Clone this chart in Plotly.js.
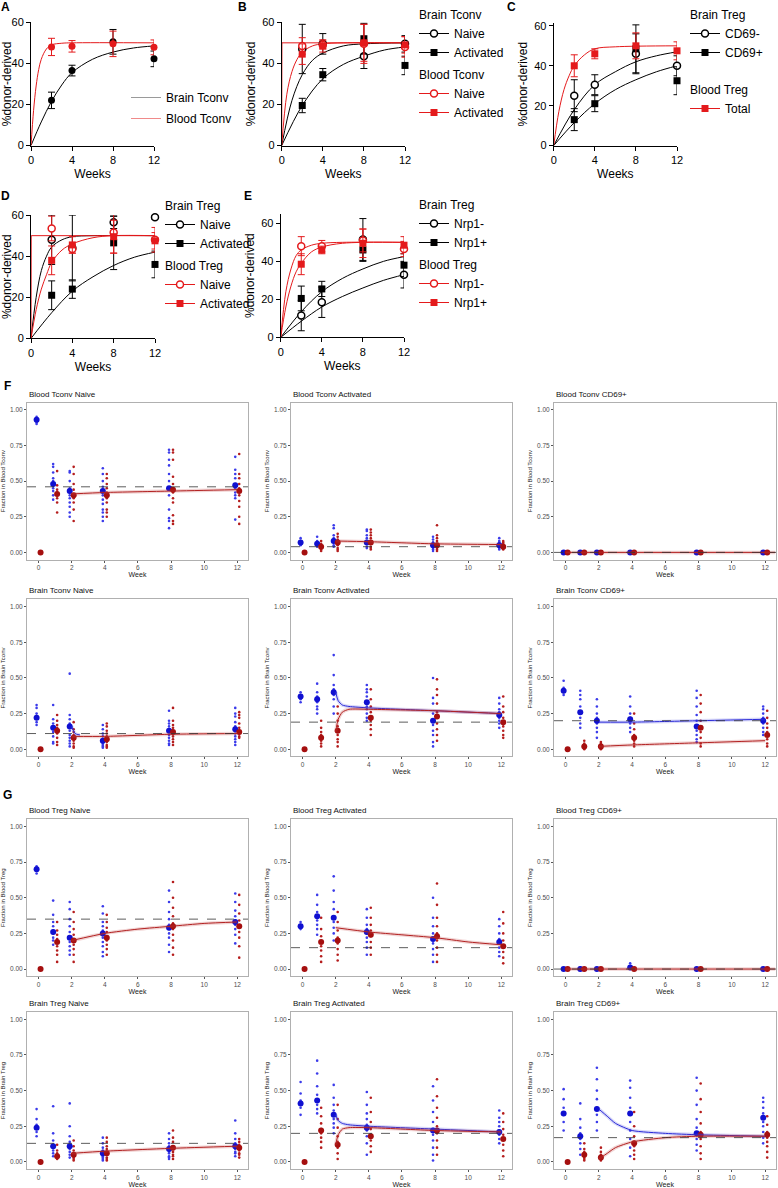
<!DOCTYPE html>
<html>
<head>
<meta charset="utf-8">
<script src="https://cdn.plot.ly/plotly-3.0.1.min.js"></script>
<style>body{margin:0;background:#fff}#fig{width:778px;height:1188px}</style>
</head>
<body>
<div id="fig"></div>
<script>
var W = 778, H = 1188;
var FONT = 'Liberation Sans, Arial, sans-serif';
var RED = '#e41a1c';

// ---- panels A-E (GraphPad style) ----
var weeksTop = [2, 4, 8, 12];

var aBrain = [22, 36.5, 50.5, 42.2], aBrainSem = [4, 2.6, 6, 3.8];
var aBlood = [48, 48.3, 49.5, 47.8], aBloodSem = [4.2, 2.8, 6.2, 3.6];
var aFitX = [0, 1, 2, 3, 4, 6, 8, 10, 12];
var aBrainFit = [0, 11.5, 21.5, 29.5, 35.5, 42, 45.5, 47.5, 48.5];
var aBloodFitX = [0, 0.25, 0.5, 0.75, 1, 1.5, 2, 3, 4, 12];
var aBloodFit = [0, 17, 29, 37, 42, 47, 49, 49.8, 50, 50];

var bBrainNaive = [47, 49.5, 43.5, 49.5], bBrainNaiveSem = [12, 5, 6, 4];
var bBrainAct = [19.5, 34.5, 52, 39], bBrainActSem = [3.5, 3, 7.5, 4.5];
var bBloodNaive = [48.5, 49, 49.5, 48], bBloodNaiveSem = [4, 2, 9.5, 5];
var bBloodAct = [44.5, 48.5, 50, 49], bBloodActSem = [5, 3, 9, 4];
var bFastX = [0, 1, 2, 3, 4, 6, 8, 12];
var bBrainNaiveFit = [0, 22, 34.5, 41.5, 45, 48.5, 49.5, 50];
var bSlowX = [0, 2, 4, 6, 8, 10, 12];
var bBrainActFit = [0, 19.5, 32.5, 39.5, 43.5, 46.5, 48];
var bStepX = [0, 0.02, 12];
var bBloodNaiveFit = [0, 50, 50];
var bBloodActX = [0, 0.5, 1, 1.5, 2, 3, 4, 6, 12];
var bBloodActFit = [0, 25, 36, 42, 45.5, 48.5, 49.5, 50, 50];

var cBrainNeg = [25, 30.5, 46, 40], cBrainNegSem = [8, 5, 10, 5];
var cBrainPos = [13, 21, 48.5, 32.5], cBrainPosSem = [5.5, 4, 12, 7];
var cBlood = [40, 46, 50, 47.5], cBloodSem = [5.5, 2.5, 6.5, 4.5];
var cSlowX = [0, 2, 4, 6, 8, 10, 12];
var cBrainNegFit = [0, 18, 30.5, 37, 42, 45, 47];
var cBrainPosFit = [0, 11.5, 21, 28, 33, 37, 40];
var cBloodX = [0, 0.5, 1, 1.5, 2, 3, 4, 6, 12];
var cBloodFit = [0, 17, 28, 35, 40, 45.5, 48.5, 49.5, 50];

var dBrainNaive = [48, 44, 56.5, 59], dBrainNaiveSem = [12, 16, 3, 1];
var dBrainAct = [21, 24, 46.5, 36], dBrainActSem = [7, 4.5, 13, 6.5];
var dBloodNaive = [53.5, 43.5, 51.5, 48], dBloodNaiveSem = [6, 2, 10, 6];
var dBloodAct = [38, 45.5, 49.5, 47.5], dBloodActSem = [7, 4, 8, 4];
var dFastX = [0, 0.5, 1, 1.5, 2, 3, 4, 6, 12];
var dBrainNaiveFit = [0, 20, 33, 40, 44.5, 48, 49.5, 50, 50];
var dSlowX = [0, 2, 4, 6, 8, 10, 12];
var dBrainActFit = [0, 12.5, 23, 30, 35.5, 39.5, 42];
var dStepX = [0, 0.02, 12];
var dBloodNaiveFit = [0, 50, 50];
var dBloodActX = [0, 0.5, 1, 1.5, 2, 3, 4, 6, 8, 12];
var dBloodActFit = [0, 14, 24, 31, 37, 43, 46, 49, 50, 50];

var eBrainNeg = [11.5, 18.5, 51.5, 33], eBrainNegSem = [8, 8, 11, 7];
var eBrainPos = [20.5, 25.5, 46, 38], eBrainPosSem = [6.5, 4, 6, 6];
var eBloodNeg = [48, 48, 51, 46.5], eBloodNegSem = [5, 3, 6, 4];
var eBloodPos = [38.5, 46, 49.5, 48.5], eBloodPosSem = [5.5, 2, 7.5, 4.5];
var eSlowX = [0, 2, 4, 6, 8, 10, 12];
var eBrainPosFit = [0, 13.5, 24, 31, 36, 40, 42.5];
var eBrainNegFit = [0, 8.5, 16, 21.5, 26, 30, 33];
var eFastX = [0, 0.5, 1, 1.5, 2, 3, 4, 6, 12];
var eBloodNegFit = [0, 24, 36, 43, 46, 48.5, 49.5, 50, 50];
var eBloodPosFit = [0, 16, 27, 34.5, 39, 45, 47.5, 49.5, 50];

// ---- panels F-G (model fits, fraction per week) ----
var weeksF = [0, 1, 2, 4, 8, 12];
var fgTitles = ['Blood Tconv Naive', 'Blood Tconv Activated', 'Blood Tconv CD69+',
  'Brain Tconv Naive', 'Brain Tconv Activated', 'Brain Tconv CD69+',
  'Blood Treg Naive', 'Blood Treg Activated', 'Blood Treg CD69+',
  'Brain Treg Naive', 'Brain Treg Activated', 'Brain Treg CD69+'];
var fgYTitles = ['Fraction in Blood Tconv', 'Fraction in Brain Tconv', 'Fraction in Blood Treg', 'Fraction in Brain Treg'];
var fgDashed = [0.46, 0.04, 0, 0.11, 0.19, 0.20, 0.35, 0.15, 0, 0.13, 0.20, 0.17];

var blueMeans = [
  [0.93, 0.48, 0.43, 0.43, 0.45, 0.47],
  [0.07, 0.06, 0.08, 0.07, 0.05, 0.05],
  [0, 0, 0, 0, 0, 0],
  [0.22, 0.15, 0.16, 0.06, 0.13, 0.14],
  [0.37, 0.35, 0.40, 0.33, 0.20, 0.24],
  [0.41, 0.26, 0.20, 0.21, 0.16, 0.20],
  [0.70, 0.26, 0.22, 0.25, 0.29, 0.33],
  [0.30, 0.37, 0.36, 0.26, 0.21, 0.19],
  [0, 0, 0, 0.01, 0, 0],
  [0.24, 0.11, 0.11, 0.06, 0.09, 0.11],
  [0.41, 0.43, 0.33, 0.24, 0.22, 0.21],
  [0.34, 0.18, 0.37, 0.34, 0.20, 0.31]
];
var redMeans = [
  [0, 0.41, 0.40, 0.40, 0.44, 0.43],
  [0, 0.04, 0.07, 0.07, 0.05, 0.04],
  [0, 0, 0, 0, 0, 0],
  [0, 0.13, 0.08, 0.07, 0.12, 0.12],
  [0, 0.08, 0.13, 0.22, 0.23, 0.19],
  [0, 0.02, 0.02, 0.08, 0.15, 0.10],
  [0, 0.19, 0.20, 0.22, 0.30, 0.30],
  [0, 0.19, 0.20, 0.24, 0.23, 0.16],
  [0, 0, 0, 0, 0, 0],
  [0, 0.04, 0.05, 0.06, 0.10, 0.10],
  [0, 0.22, 0.12, 0.18, 0.22, 0.16],
  [0, 0.05, 0.03, 0.13, 0.19, 0.19]
];
var blueDots = [
  [[0.95, 0.94, 0.92, 0.91, 0.90], [0.62, 0.60, 0.56, 0.52, 0.50, 0.47, 0.45, 0.43, 0.40, 0.37], [0.57, 0.56, 0.50, 0.45, 0.42, 0.40, 0.38, 0.35, 0.32, 0.28, 0.25], [0.59, 0.55, 0.50, 0.46, 0.44, 0.40, 0.37, 0.34, 0.30, 0.28, 0.25, 0.22], [0.72, 0.70, 0.65, 0.61, 0.55, 0.50, 0.45, 0.40, 0.30, 0.24, 0.22, 0.17], [0.67, 0.58, 0.55, 0.52, 0.48, 0.45, 0.42, 0.40, 0.38, 0.23]],
  [[0.10, 0.08, 0.07, 0.06, 0.05], [0.11, 0.08, 0.07, 0.06, 0.05, 0.04], [0.19, 0.17, 0.12, 0.10, 0.09, 0.08, 0.07, 0.05, 0.04], [0.16, 0.15, 0.12, 0.10, 0.08, 0.07, 0.06, 0.04, 0.03], [0.11, 0.09, 0.07, 0.06, 0.05, 0.04, 0.03, 0.02, 0.01], [0.10, 0.08, 0.07, 0.06, 0.05, 0.04, 0.03, 0.02]],
  [[0, 0, 0], [0, 0, 0], [0, 0, 0], [0, 0, 0], [0, 0, 0], [0, 0, 0]],
  [[0.31, 0.29, 0.25, 0.22, 0.19, 0.17], [0.31, 0.21, 0.18, 0.16, 0.14, 0.12, 0.09, 0.05, 0.04], [0.53, 0.24, 0.21, 0.18, 0.16, 0.13, 0.10, 0.08, 0.06, 0.04, 0.02], [0.17, 0.14, 0.11, 0.09, 0.07, 0.05, 0.04, 0.03, 0.02, 0.01], [0.27, 0.20, 0.18, 0.16, 0.14, 0.12, 0.10, 0.08, 0.06, 0.04, 0.03], [0.29, 0.25, 0.23, 0.19, 0.16, 0.13, 0.11, 0.09, 0.07, 0.05, 0.03]],
  [[0.40, 0.38, 0.37, 0.35, 0.33], [0.46, 0.40, 0.37, 0.35, 0.33, 0.30, 0.28, 0.25], [0.66, 0.52, 0.45, 0.42, 0.40, 0.38, 0.35, 0.30, 0.25], [0.45, 0.42, 0.40, 0.37, 0.33, 0.30, 0.28, 0.25, 0.22, 0.20], [0.50, 0.36, 0.32, 0.25, 0.20, 0.17, 0.13, 0.10, 0.05, 0.02], [0.36, 0.32, 0.28, 0.26, 0.24, 0.22, 0.20, 0.18, 0.15]],
  [[0.48, 0.43, 0.41, 0.40, 0.38], [0.41, 0.38, 0.35, 0.30, 0.26, 0.22, 0.18, 0.15], [0.35, 0.30, 0.25, 0.22, 0.20, 0.18, 0.15, 0.12, 0.08], [0.37, 0.30, 0.25, 0.22, 0.20, 0.18, 0.15, 0.12], [0.41, 0.36, 0.30, 0.24, 0.20, 0.16, 0.13, 0.10, 0.07, 0.05], [0.30, 0.28, 0.25, 0.22, 0.20, 0.18, 0.15, 0.12, 0.10]],
  [[0.72, 0.71, 0.70, 0.69, 0.67], [0.48, 0.38, 0.33, 0.30, 0.27, 0.25, 0.22, 0.20, 0.17], [0.47, 0.42, 0.35, 0.30, 0.26, 0.22, 0.19, 0.16, 0.13, 0.10], [0.44, 0.39, 0.33, 0.30, 0.27, 0.24, 0.22, 0.19, 0.16, 0.12, 0.09], [0.55, 0.47, 0.40, 0.35, 0.31, 0.28, 0.25, 0.22, 0.17, 0.12], [0.53, 0.47, 0.41, 0.37, 0.34, 0.31, 0.28, 0.24, 0.18]],
  [[0.33, 0.31, 0.30, 0.29, 0.28], [0.52, 0.45, 0.40, 0.37, 0.34, 0.31, 0.28, 0.24], [0.65, 0.55, 0.47, 0.42, 0.37, 0.33, 0.29, 0.25, 0.20], [0.42, 0.36, 0.31, 0.28, 0.25, 0.22, 0.19, 0.15, 0.10], [0.50, 0.36, 0.30, 0.25, 0.21, 0.18, 0.14, 0.10, 0.05], [0.35, 0.30, 0.25, 0.21, 0.18, 0.15, 0.12, 0.09]],
  [[0, 0, 0], [0.01, 0, 0], [0, 0, 0], [0.04, 0.02, 0.01, 0], [0, 0, 0], [0, 0, 0]],
  [[0.37, 0.30, 0.26, 0.24, 0.21, 0.18], [0.39, 0.20, 0.15, 0.12, 0.10, 0.08, 0.06, 0.04], [0.41, 0.25, 0.18, 0.14, 0.11, 0.09, 0.07, 0.05, 0.03], [0.17, 0.13, 0.10, 0.08, 0.06, 0.05, 0.04, 0.03, 0.02, 0.01], [0.20, 0.16, 0.13, 0.11, 0.09, 0.07, 0.06, 0.04, 0.03, 0.02], [0.29, 0.20, 0.16, 0.13, 0.11, 0.09, 0.07, 0.06, 0.04]],
  [[0.56, 0.48, 0.43, 0.41, 0.38, 0.33], [0.71, 0.62, 0.53, 0.47, 0.43, 0.40, 0.37, 0.34], [0.54, 0.45, 0.40, 0.36, 0.33, 0.30, 0.27, 0.24, 0.20], [0.49, 0.40, 0.34, 0.30, 0.26, 0.22, 0.18, 0.13, 0.05], [0.53, 0.43, 0.35, 0.28, 0.23, 0.19, 0.15, 0.10, 0.05, 0.01], [0.36, 0.31, 0.28, 0.25, 0.22, 0.19, 0.16, 0.13]],
  [[0.51, 0.44, 0.38, 0.33, 0.28, 0.22], [0.41, 0.30, 0.24, 0.20, 0.16, 0.13, 0.09, 0.05], [0.66, 0.58, 0.50, 0.44, 0.38, 0.33, 0.28, 0.22], [0.57, 0.52, 0.45, 0.38, 0.33, 0.28, 0.22, 0.16, 0.10, 0.04], [0.59, 0.50, 0.40, 0.30, 0.24, 0.20, 0.16, 0.12, 0.08], [0.45, 0.42, 0.38, 0.34, 0.31, 0.28, 0.25, 0.21, 0.17, 0.13]]
];
var redDots = [
  [[0, 0, 0], [0.57, 0.47, 0.44, 0.42, 0.40, 0.38, 0.35, 0.28], [0.60, 0.55, 0.48, 0.44, 0.40, 0.38, 0.35, 0.30, 0.22], [0.55, 0.52, 0.48, 0.45, 0.42, 0.38, 0.35, 0.30, 0.28, 0.25], [0.72, 0.70, 0.65, 0.53, 0.48, 0.42, 0.38, 0.35, 0.26, 0.22, 0.20], [0.69, 0.55, 0.52, 0.48, 0.45, 0.40, 0.36, 0.32, 0.25, 0.20]],
  [[0, 0, 0], [0.08, 0.06, 0.04, 0.03, 0.02, 0.01], [0.13, 0.11, 0.09, 0.07, 0.05, 0.03, 0.02, 0.01], [0.16, 0.14, 0.12, 0.10, 0.08, 0.07, 0.06, 0.04, 0.03, 0.02], [0.19, 0.12, 0.10, 0.08, 0.06, 0.05, 0.04, 0.03, 0.02, 0.01], [0.08, 0.07, 0.06, 0.05, 0.04, 0.03, 0.02]],
  [[0, 0, 0], [0, 0, 0], [0, 0, 0], [0, 0, 0], [0, 0, 0], [0, 0, 0]],
  [[0, 0, 0], [0.24, 0.20, 0.17, 0.15, 0.13, 0.11, 0.08, 0.05, 0.03], [0.19, 0.14, 0.12, 0.10, 0.08, 0.06, 0.04, 0.02, 0.01], [0.18, 0.16, 0.13, 0.11, 0.09, 0.07, 0.05, 0.03, 0.02, 0.01], [0.29, 0.20, 0.17, 0.15, 0.13, 0.11, 0.09, 0.07, 0.05, 0.03], [0.26, 0.24, 0.22, 0.18, 0.15, 0.13, 0.11, 0.09, 0.08]],
  [[0, 0, 0], [0.20, 0.15, 0.12, 0.10, 0.08, 0.06, 0.04, 0.02], [0.30, 0.25, 0.20, 0.16, 0.13, 0.10, 0.07, 0.05, 0.02], [0.42, 0.35, 0.30, 0.26, 0.22, 0.20, 0.17, 0.14, 0.10], [0.49, 0.42, 0.38, 0.32, 0.26, 0.22, 0.18, 0.14, 0.10, 0.06], [0.37, 0.30, 0.26, 0.22, 0.19, 0.16, 0.13, 0.10, 0.08]],
  [[0, 0, 0], [0.06, 0.04, 0.03, 0.02, 0.01, 0], [0.05, 0.04, 0.03, 0.02, 0.01, 0], [0.25, 0.18, 0.14, 0.10, 0.08, 0.06, 0.04, 0.02], [0.38, 0.32, 0.26, 0.20, 0.16, 0.12, 0.08, 0.04, 0.02], [0.27, 0.22, 0.18, 0.15, 0.12, 0.10, 0.07, 0.04, 0.02]],
  [[0, 0, 0], [0.33, 0.27, 0.24, 0.21, 0.19, 0.16, 0.13, 0.10, 0.05], [0.40, 0.33, 0.28, 0.24, 0.20, 0.17, 0.14, 0.10, 0.05], [0.38, 0.33, 0.29, 0.26, 0.23, 0.20, 0.17, 0.14, 0.10], [0.61, 0.50, 0.43, 0.37, 0.32, 0.28, 0.24, 0.20, 0.15, 0.10], [0.52, 0.45, 0.39, 0.34, 0.30, 0.26, 0.22, 0.16, 0.08]],
  [[0, 0, 0], [0.36, 0.28, 0.23, 0.19, 0.16, 0.13, 0.09, 0.05], [0.40, 0.33, 0.27, 0.22, 0.18, 0.14, 0.10, 0.06], [0.43, 0.36, 0.31, 0.27, 0.23, 0.19, 0.15, 0.10], [0.60, 0.45, 0.36, 0.30, 0.25, 0.20, 0.15, 0.10, 0.05], [0.40, 0.32, 0.25, 0.20, 0.16, 0.12, 0.08, 0.04]],
  [[0, 0, 0], [0, 0, 0], [0, 0, 0], [0, 0, 0], [0, 0, 0], [0, 0, 0]],
  [[0, 0, 0], [0.12, 0.08, 0.06, 0.05, 0.04, 0.03, 0.02], [0.15, 0.11, 0.08, 0.06, 0.04, 0.03, 0.02, 0.01], [0.17, 0.14, 0.11, 0.09, 0.07, 0.05, 0.03, 0.02, 0.01], [0.22, 0.17, 0.14, 0.11, 0.09, 0.07, 0.05, 0.04, 0.02], [0.16, 0.14, 0.12, 0.10, 0.08, 0.06, 0.05, 0.03]],
  [[0, 0, 0], [0.38, 0.32, 0.27, 0.23, 0.20, 0.17, 0.14, 0.10], [0.40, 0.30, 0.24, 0.18, 0.14, 0.10, 0.06, 0.02], [0.45, 0.35, 0.28, 0.23, 0.19, 0.15, 0.11, 0.07], [0.58, 0.46, 0.38, 0.31, 0.25, 0.20, 0.15, 0.10, 0.05], [0.34, 0.28, 0.23, 0.19, 0.16, 0.12, 0.08, 0.04]],
  [[0, 0, 0], [0.13, 0.09, 0.07, 0.05, 0.03, 0.02, 0.01], [0.10, 0.07, 0.05, 0.03, 0.02, 0.01], [0.35, 0.25, 0.18, 0.14, 0.11, 0.08, 0.05, 0.02], [0.55, 0.44, 0.35, 0.27, 0.21, 0.16, 0.11, 0.06, 0.02], [0.32, 0.26, 0.21, 0.17, 0.14, 0.11, 0.07, 0.03]]
];
// model curves (null = no curve in that panel)
var redFitX = [[2, 4, 8, 12], [2, 4, 8, 12], [0, 12.6], [2, 4, 8, 12], [2, 2.15, 2.4, 2.8, 4, 8, 12], [2, 4, 8, 12],
  [2, 4, 6, 8, 10, 12], [2, 4, 6, 8, 10, 12], [0, 12.6], [2, 4, 8, 12], [2, 2.15, 2.4, 2.8, 4, 8, 12], [2, 2.5, 3, 4, 6, 8, 12]];
var redFitY = [[0.41, 0.42, 0.43, 0.44], [0.08, 0.075, 0.06, 0.055], [0, 0], [0.09, 0.09, 0.105, 0.11], [0.12, 0.21, 0.26, 0.28, 0.28, 0.27, 0.25], [0.02, 0.03, 0.045, 0.06],
  [0.20, 0.25, 0.28, 0.30, 0.32, 0.33], [0.29, 0.26, 0.24, 0.22, 0.19, 0.17], [0, 0], [0.06, 0.075, 0.095, 0.11], [0.12, 0.19, 0.23, 0.24, 0.24, 0.22, 0.21], [0.02, 0.06, 0.10, 0.14, 0.17, 0.18, 0.18]];
var blueFitX = [null, null, null, [2, 2.2, 2.5], [2, 2.15, 2.4, 2.8, 4, 8, 12], [2, 4, 8, 12],
  null, null, null, null, [2, 2.15, 2.4, 2.8, 4, 8, 12], [2, 2.5, 3, 4, 6, 8, 12]];
var blueFitY = [null, null, null, [0.16, 0.11, 0.10], [0.40, 0.34, 0.31, 0.30, 0.29, 0.27, 0.25], [0.19, 0.19, 0.20, 0.21],
  null, null, null, null, [0.33, 0.29, 0.27, 0.26, 0.25, 0.23, 0.21], [0.37, 0.32, 0.27, 0.22, 0.20, 0.19, 0.18]];

// ---------- build ----------
function px(x) { return x / W; }
function py(y) { return 1 - y / H; }

var data = [];
var layout = {
  width: W, height: H, margin: {l: 0, r: 0, t: 0, b: 0},
  paper_bgcolor: 'white', plot_bgcolor: 'white',
  font: {family: FONT, color: '#000'},
  showlegend: true, shapes: [], annotations: []
};

function ax(n, key) { return key + (n === 1 ? '' : n); }

function topAxes(n, x0, x1, yTop, yBot, yMax) {
  var base = {showline: true, linecolor: '#000', linewidth: 1, ticks: 'outside', ticklen: 4,
    tickcolor: '#000', showgrid: false, zeroline: false, tickfont: {size: 11, family: FONT}};
  layout[ax(n, 'xaxis')] = Object.assign({}, base, {domain: [px(x0), px(x1)], range: [0, 12],
    tickvals: [0, 4, 8, 12], anchor: ax(n, 'y'), title: {text: 'Weeks', font: {size: 12}, standoff: 4}});
  layout[ax(n, 'yaxis')] = Object.assign({}, base, {domain: [py(yBot), py(yTop)], range: [0, yMax],
    tickvals: [0, 20, 40, 60], anchor: ax(n, 'x'), title: {text: '%donor-derived', font: {size: 12}, standoff: 4}});
}

function pts(n, y, e, color, open, sym) {
  data.push({x: weeksTop, y: y, type: 'scatter', mode: 'markers', showlegend: false, cliponaxis: false,
    xaxis: ax(n, 'x'), yaxis: ax(n, 'y'),
    error_y: {type: 'data', array: e, color: color, thickness: 1, width: 3.5},
    marker: {symbol: sym, size: 7, color: open ? 'white' : color, line: {color: color, width: open ? 1.5 : 0}}});
}
function fit(n, x, y, color) {
  data.push({x: x, y: y, type: 'scatter', mode: 'lines', showlegend: false, cliponaxis: false,
    xaxis: ax(n, 'x'), yaxis: ax(n, 'y'), line: {color: color, width: 1, shape: 'spline'}});
}
function legItem(n, leg, name, color, open, sym, group, gtitle) {
  var t = {x: [null], y: [null], type: 'scatter', mode: 'lines+markers', name: name, legend: leg,
    xaxis: ax(n, 'x'), yaxis: ax(n, 'y'), legendgroup: group,
    line: {color: color, width: 1},
    marker: {symbol: sym, size: 7, color: open ? 'white' : color, line: {color: color, width: open ? 1.5 : 0}}};
  if (gtitle) t.legendgrouptitle = {text: gtitle, font: {size: 12}};
  data.push(t);
}
function legendBox(key, x, y, gap) {
  layout[key] = {x: px(x), y: py(y), xanchor: 'left', yanchor: 'top', bgcolor: 'rgba(0,0,0,0)',
    font: {size: 12, family: FONT}, traceorder: 'grouped', tracegroupgap: gap, itemwidth: 30};
}

// A
topAxes(1, 31, 154, 21.3, 144.7, 60);
fit(1, aFitX, aBrainFit, '#000');
fit(1, aBloodFitX, aBloodFit, RED);
pts(1, aBrain, aBrainSem, '#000', false, 'circle');
pts(1, aBlood, aBloodSem, RED, false, 'circle');
data.push({x: [null], y: [null], type: 'scatter', mode: 'lines', name: 'Brain Tconv', legend: 'legend', legendgroup: 'a1',
  xaxis: 'x', yaxis: 'y', line: {color: '#9a9a9a', width: 1}});
data.push({x: [null], y: [null], type: 'scatter', mode: 'lines', name: 'Blood Tconv', legend: 'legend', legendgroup: 'a2',
  xaxis: 'x', yaxis: 'y', line: {color: '#f08a8a', width: 1}});
legendBox('legend', 126, 83, 2);

// B
topAxes(2, 281.7, 405, 21.3, 144.7, 60);
fit(2, bFastX, bBrainNaiveFit, '#000');
fit(2, bSlowX, bBrainActFit, '#000');
data.push({x: bStepX, y: bBloodNaiveFit, type: 'scatter', mode: 'lines', showlegend: false, cliponaxis: false,
  xaxis: 'x2', yaxis: 'y2', line: {color: RED, width: 1}});
fit(2, bBloodActX, bBloodActFit, RED);
pts(2, bBrainNaive, bBrainNaiveSem, '#000', true, 'circle');
pts(2, bBrainAct, bBrainActSem, '#000', false, 'square');
pts(2, bBloodNaive, bBloodNaiveSem, RED, true, 'circle');
pts(2, bBloodAct, bBloodActSem, RED, false, 'square');
legItem(2, 'legend2', 'Naive', '#000', true, 'circle', 'b1', 'Brain Tconv');
legItem(2, 'legend2', 'Activated', '#000', false, 'square', 'b1');
legItem(2, 'legend2', 'Naive', RED, true, 'circle', 'b2', 'Blood Tconv');
legItem(2, 'legend2', 'Activated', RED, false, 'square', 'b2');
legendBox('legend2', 414, 0, 3);

// C
topAxes(3, 553.7, 677, 21.7, 144.7, 61.6);
fit(3, cSlowX, cBrainNegFit, '#000');
fit(3, cSlowX, cBrainPosFit, '#000');
fit(3, cBloodX, cBloodFit, RED);
pts(3, cBrainNeg, cBrainNegSem, '#000', true, 'circle');
pts(3, cBrainPos, cBrainPosSem, '#000', false, 'square');
pts(3, cBlood, cBloodSem, RED, false, 'square');
legItem(3, 'legend3', 'CD69-', '#000', true, 'circle', 'c1', 'Brain Treg');
legItem(3, 'legend3', 'CD69+', '#000', false, 'square', 'c1');
legItem(3, 'legend3', 'Total', RED, false, 'square', 'c2', 'Blood Treg');
legendBox('legend3', 685, -1, 18);

// D
topAxes(4, 31, 155, 214.3, 337.7, 60);
fit(4, dFastX, dBrainNaiveFit, '#000');
fit(4, dSlowX, dBrainActFit, '#000');
data.push({x: dStepX, y: dBloodNaiveFit, type: 'scatter', mode: 'lines', showlegend: false, cliponaxis: false,
  xaxis: 'x4', yaxis: 'y4', line: {color: RED, width: 1}});
fit(4, dBloodActX, dBloodActFit, RED);
pts(4, dBrainNaive, dBrainNaiveSem, '#000', true, 'circle');
pts(4, dBrainAct, dBrainActSem, '#000', false, 'square');
pts(4, dBloodNaive, dBloodNaiveSem, RED, true, 'circle');
pts(4, dBloodAct, dBloodActSem, RED, false, 'square');
legItem(4, 'legend4', 'Naive', '#000', true, 'circle', 'd1', 'Brain Treg');
legItem(4, 'legend4', 'Activated', '#000', false, 'square', 'd1');
legItem(4, 'legend4', 'Naive', RED, true, 'circle', 'd2', 'Blood Treg');
legItem(4, 'legend4', 'Activated', RED, false, 'square', 'd2');
legendBox('legend4', 160, 191, 3);

// E
topAxes(5, 280.7, 404, 213, 336.7, 65);
fit(5, eSlowX, eBrainPosFit, '#000');
fit(5, eSlowX, eBrainNegFit, '#000');
fit(5, eFastX, eBloodNegFit, RED);
fit(5, eFastX, eBloodPosFit, RED);
pts(5, eBrainNeg, eBrainNegSem, '#000', true, 'circle');
pts(5, eBrainPos, eBrainPosSem, '#000', false, 'square');
pts(5, eBloodNeg, eBloodNegSem, RED, true, 'circle');
pts(5, eBloodPos, eBloodPosSem, RED, false, 'square');
legItem(5, 'legend5', 'Nrp1-', '#000', true, 'circle', 'e1', 'Brain Treg');
legItem(5, 'legend5', 'Nrp1+', '#000', false, 'square', 'e1');
legItem(5, 'legend5', 'Nrp1-', RED, true, 'circle', 'e2', 'Blood Treg');
legItem(5, 'legend5', 'Nrp1+', RED, false, 'square', 'e2');
legendBox('legend5', 414, 190, 3);

// F / G
var colX = [[27, 248], [291, 512], [554, 776]];
var rowTop = [402, 599, 819, 1012];
var boxH = 157;
var BLUE = '#1010d0', BLUE_DOT = '#3b3bea', DRED = '#a50f0f', DRED_DOT = '#b51d1d';

function flat(groups, off) {
  var xs = [], ys = [];
  groups.forEach(function (g, k) { g.forEach(function (v) { xs.push(weeksF[k] + off); ys.push(v); }); });
  return {x: xs, y: ys};
}

fgTitles.forEach(function (title, i) {
  var n = 6 + i, col = i % 3, row = Math.floor(i / 3);
  var xa = ax(n, 'x'), ya = ax(n, 'y');
  var base = {showline: true, mirror: true, linecolor: '#b0b0b0', linewidth: 1, ticks: 'outside', ticklen: 2,
    tickcolor: '#555', showgrid: false, zeroline: false, tickfont: {size: 6.5, color: '#4d4d4d', family: FONT}};
  layout[ax(n, 'xaxis')] = Object.assign({}, base, {domain: [px(colX[col][0]), px(colX[col][1])],
    range: [-0.7, 12.65], tickvals: [0, 2, 4, 6, 8, 10, 12], anchor: ya,
    title: {text: 'Week', font: {size: 7, color: '#222'}, standoff: 1}});
  layout[ax(n, 'yaxis')] = Object.assign({}, base, {domain: [py(rowTop[row] + boxH), py(rowTop[row])],
    range: [-0.05, 1.05], tickvals: [0, 0.25, 0.5, 0.75, 1], ticktext: ['0.00', '0.25', '0.50', '0.75', '1.00'], anchor: xa,
    title: {text: fgYTitles[row], font: {size: 6, color: '#222'}, standoff: 3}});
  layout.annotations.push({text: title, xref: 'paper', yref: 'paper', x: px(colX[col][0]), y: py(rowTop[row] - 2),
    xanchor: 'left', yanchor: 'bottom', showarrow: false, font: {size: 8, color: '#111'}});
  layout.shapes.push({type: 'line', xref: xa + ' domain', yref: ya, x0: 0, x1: 1, y0: fgDashed[i], y1: fgDashed[i],
    line: {color: '#333', width: 0.8, dash: 'dash'}});

  var b = flat(blueDots[i], -0.12), r = flat(redDots[i], 0.12);
  data.push({x: b.x, y: b.y, type: 'scatter', mode: 'markers', showlegend: false, xaxis: xa, yaxis: ya,
    marker: {size: 2.6, color: BLUE_DOT}});
  data.push({x: r.x, y: r.y, type: 'scatter', mode: 'markers', showlegend: false, xaxis: xa, yaxis: ya,
    marker: {size: 2.6, color: DRED_DOT}});
  data.push({x: weeksF.map(function (w) { return w - 0.12; }), y: blueMeans[i], type: 'scatter', mode: 'markers',
    showlegend: false, xaxis: xa, yaxis: ya, marker: {size: 6, color: BLUE}});
  data.push({x: weeksF.map(function (w) { return w + 0.12; }), y: redMeans[i], type: 'scatter', mode: 'markers',
    showlegend: false, xaxis: xa, yaxis: ya, marker: {size: 6, color: DRED}});
  if (blueFitX[i]) {
    data.push({x: blueFitX[i], y: blueFitY[i], type: 'scatter', mode: 'lines', showlegend: false, xaxis: xa, yaxis: ya,
      line: {color: 'rgba(60,60,220,0.2)', width: 3.5, shape: 'spline', smoothing: 0.6}});
    data.push({x: blueFitX[i], y: blueFitY[i], type: 'scatter', mode: 'lines', showlegend: false, xaxis: xa, yaxis: ya,
      line: {color: '#2a2ad8', width: 1, shape: 'spline', smoothing: 0.6}});
  }
  data.push({x: redFitX[i], y: redFitY[i], type: 'scatter', mode: 'lines', showlegend: false, xaxis: xa, yaxis: ya,
    line: {color: 'rgba(190,60,60,0.22)', width: 3.5, shape: 'spline', smoothing: 0.6}});
  data.push({x: redFitX[i], y: redFitY[i], type: 'scatter', mode: 'lines', showlegend: false, xaxis: xa, yaxis: ya,
    line: {color: '#b22222', width: 1, shape: 'spline', smoothing: 0.6}});
});

// panel letters
[['A', 5, 6], ['B', 243, 6], ['C', 512, 6], ['D', 5, 195], ['E', 248, 195], ['F', 7, 385], ['G', 7, 795]].forEach(function (p) {
  layout.annotations.push({text: '<b>' + p[0] + '</b>', xref: 'paper', yref: 'paper', x: px(p[1]), y: py(p[2]),
    xanchor: 'center', yanchor: 'middle', showarrow: false, font: {size: 12, color: '#000'}});
});

Plotly.newPlot('fig', data, layout, {displayModeBar: false, responsive: false});
</script>
</body>
</html>
